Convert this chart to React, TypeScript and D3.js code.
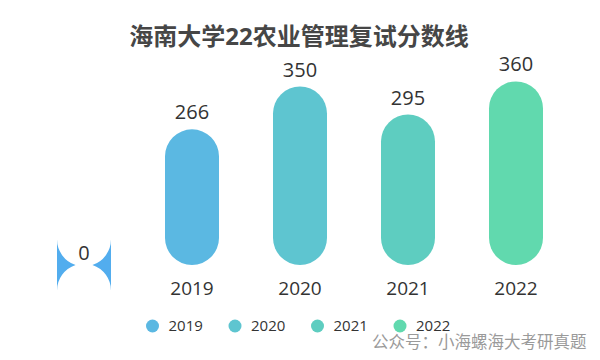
import React from "react";
import * as d3 from "d3";

const title = "海南大学22农业管理复试分数线";
const categories = ["", "2019", "2020", "2021", "2022"];
const values = [0, 266, 350, 295, 360];
const barColors = ["#52adee", "#5bb8e2", "#5ec5d0", "#5ecdc0", "#61d9ae"];
const legendLabels = ["2019", "2020", "2021", "2022"];
const legendColors = ["#5bb8e2", "#5ec5d0", "#5ecdc0", "#61d9ae"];
const footer = "公众号：小海螺海大考研真题";

const W = 600;
const H = 360;
const font = "'Open Sans', 'Noto Sans CJK SC', sans-serif";

function roundedBar(x0: number, y0: number, w: number, h: number): string {
  const r = Math.min(w / 2, h / 2);
  const p = d3.path();
  const x1 = x0 + w;
  const y1 = y0 + h;
  p.moveTo(x0 + r, y0);
  p.lineTo(x1 - r, y0);
  p.arcTo(x1, y0, x1, y0 + r, r);
  p.lineTo(x1, y1 - r);
  p.arcTo(x1, y1, x1 - r, y1, r);
  p.lineTo(x0 + r, y1);
  p.arcTo(x0, y1, x0, y1 - r, r);
  p.lineTo(x0, y0 + r);
  p.arcTo(x0, y0, x0 + r, y0, r);
  p.closePath();
  return p.toString();
}

function zeroBar(x0: number, yc: number, w: number): string {
  const r = w / 2;
  const h = r * 0.95;
  const cx = x0 + r;
  const x1 = x0 + w;
  const dx = Math.sqrt(r * r - h * h);
  const left = `M${x0},${yc - h} A${r},${r} 0 0 0 ${cx - dx},${yc} A${r},${r} 0 0 0 ${x0},${yc + h} Z`;
  const right = `M${x1},${yc - h} A${r},${r} 0 0 1 ${cx + dx},${yc} A${r},${r} 0 0 1 ${x1},${yc + h} Z`;
  return left + " " + right;
}

export default function App() {
  const x = d3.scaleBand<string>().domain(categories).range([30, 570]).paddingInner(0.5).paddingOuter(0.25);
  const y = d3.scaleLinear().domain([0, 400]).range([265, 61]);
  const bw = x.bandwidth();
  const legendX = d3.scaleLinear().domain([0, 3]).range([152.5, 400]);

  return (
    <svg width={W} height={H} style={{ position: "absolute", left: 0, top: 0, background: "#fff" }} fontFamily={font}>
      <text x={299} y={45} textAnchor="middle" fontSize={24} fontWeight="bold" fill="#464646">
        {title}
      </text>
      {categories.map((c, i) => {
        const v = values[i];
        const x0 = x(c)!;
        const cx = x0 + bw / 2;
        const top = y(v);
        return (
          <g key={i}>
            {v === 0 ? (
              <path d={zeroBar(x0, y(0), bw)} fill={barColors[i]} />
            ) : (
              <path d={roundedBar(x0, top, bw, y(0) - top)} fill={barColors[i]} />
            )}
            <text x={cx} y={top - (v === 0 ? 5 : 10)} textAnchor="middle" fontSize={20} fill="#333">
              {v}
            </text>
            {c && (
              <text x={cx} y={295} textAnchor="middle" fontSize={19} fill="#333">
                {c}
              </text>
            )}
          </g>
        );
      })}
      {legendLabels.map((l, i) => (
        <g key={l}>
          <circle cx={legendX(i)} cy={326} r={6.5} fill={legendColors[i]} />
          <text x={legendX(i) + 16} y={331} fontSize={15} fill="#333">
            {l}
          </text>
        </g>
      ))}
      <text x={372} y={348} fontSize={16.5} fill="#9a9a9a" fontFamily="'Noto Sans CJK SC', sans-serif">
        {footer}
      </text>
    </svg>
  );
}
